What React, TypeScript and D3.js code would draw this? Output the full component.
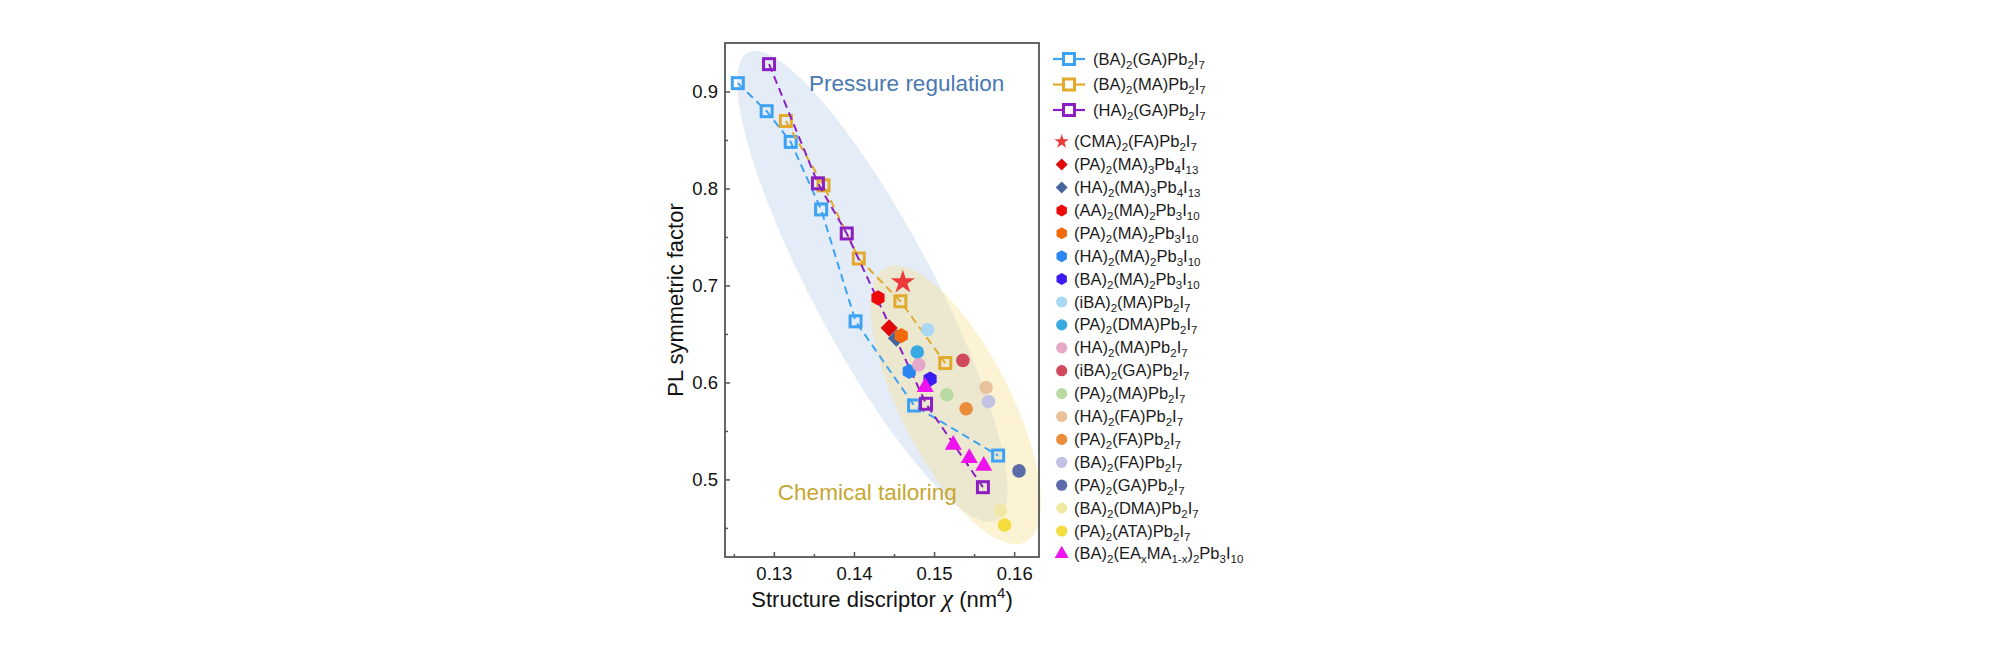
import React, { useEffect, useRef } from 'react'
import * as d3 from 'd3'

// axis ticks
const xTicks = [0.13, 0.14, 0.15, 0.16]
const xMinorTicks = [0.125, 0.135, 0.145, 0.155]
const yTicks = [0.5, 0.6, 0.7, 0.8, 0.9]
const yMinorTicks = [0.45, 0.55, 0.65, 0.75, 0.85]

// pressure series (dashed lines with open squares)
const lineNames = ['(BA)_2(GA)Pb_2I_7', '(BA)_2(MA)Pb_2I_7', '(HA)_2(GA)Pb_2I_7']
const lineColors = ['#3ea2f2', '#e1aa2c', '#8c1fc1']
const baGaX = [0.1255, 0.1291, 0.1321, 0.1359, 0.1402, 0.1475, 0.158]
const baGaY = [0.9086, 0.8797, 0.848, 0.7784, 0.663, 0.5762, 0.5246]
const baMaX = [0.1315, 0.1362, 0.1406, 0.1458, 0.1514]
const baMaY = [0.8696, 0.8032, 0.7278, 0.6837, 0.62]
const haGaX = [0.1294, 0.1355, 0.1391, 0.149, 0.1561]
const haGaY = [0.9282, 0.8053, 0.7536, 0.578, 0.492]
const lineXs = [baGaX, baMaX, haGaX]
const lineYs = [baGaY, baMaY, haGaY]

// chemical tailoring compounds (single points)
const compoundNames = [
  '(CMA)_2(FA)Pb_2I_7',
  '(PA)_2(MA)_3Pb_4I_{13}',
  '(HA)_2(MA)_3Pb_4I_{13}',
  '(AA)_2(MA)_2Pb_3I_{10}',
  '(PA)_2(MA)_2Pb_3I_{10}',
  '(HA)_2(MA)_2Pb_3I_{10}',
  '(BA)_2(MA)_2Pb_3I_{10}',
  '(iBA)_2(MA)Pb_2I_7',
  '(PA)_2(DMA)Pb_2I_7',
  '(HA)_2(MA)Pb_2I_7',
  '(iBA)_2(GA)Pb_2I_7',
  '(PA)_2(MA)Pb_2I_7',
  '(HA)_2(FA)Pb_2I_7',
  '(PA)_2(FA)Pb_2I_7',
  '(BA)_2(FA)Pb_2I_7',
  '(PA)_2(GA)Pb_2I_7',
  '(BA)_2(DMA)Pb_2I_7',
  '(PA)_2(ATA)Pb_2I_7',
]
const compoundShapes = [
  'star', 'diamond', 'diamond', 'hex', 'hex', 'hex', 'hex',
  'circle', 'circle', 'circle', 'circle', 'circle', 'circle',
  'circle', 'circle', 'circle', 'circle', 'circle',
]
const compoundColors = [
  '#ec3b3d', '#e00a0a', '#45659c', '#ee0a0a', '#f26a0c', '#2b86f2', '#3a1cf2',
  '#a8d8f2', '#3aa9e2', '#e6a8c8', '#d14a5c', '#b9d9a2', '#e9c29c',
  '#ea8c3a', '#c2c2e2', '#5b6aa9', '#f2e8a6', '#f3dc3e',
]
const compoundX = [
  0.1461, 0.1444, 0.1453, 0.143, 0.1459, 0.1469, 0.1495, 0.1492, 0.1479,
  0.1481, 0.1536, 0.1516, 0.1565, 0.154, 0.1568, 0.1606, 0.1583, 0.1588,
]
const compoundY = [
  0.7033, 0.6562, 0.6456, 0.6872, 0.6483, 0.6114, 0.6035, 0.6544, 0.6314,
  0.6183, 0.6227, 0.5873, 0.5948, 0.5728, 0.5804, 0.5088, 0.4678, 0.453,
]

// (BA)2(EAxMA1-x)2Pb3I10 triangles
const eaName = '(BA)_2(EA_xMA_{1-x})_2Pb_3I_{10}'
const eaColor = '#ee12ee'
const eaX = [0.1489, 0.1524, 0.1544, 0.1562]
const eaY = [0.5953, 0.5356, 0.5219, 0.514]

const width = 2000
const height = 649
const plot = { left: 725, right: 1039, top: 43, bottom: 557 }
const font = "'Liberation Sans', Arial, Helvetica, sans-serif"

const xScale = d3.scaleLinear().domain([0.1239, 0.1631]).range([plot.left, plot.right])
const yScale = d3.scaleLinear().domain([0.42, 0.95]).range([plot.bottom, plot.top])

// split "(BA)_2(GA)" into normal / subscript parts
function parseLabel(s: string) {
  const parts: { text: string; sub: boolean }[] = []
  let buf = ''
  let i = 0
  while (i < s.length) {
    if (s[i] === '_') {
      if (buf) parts.push({ text: buf, sub: false })
      buf = ''
      let t = ''
      if (s[i + 1] === '{') {
        const end = s.indexOf('}', i)
        t = s.slice(i + 2, end)
        i = end + 1
      } else {
        t = s[i + 1]
        i += 2
      }
      parts.push({ text: t, sub: true })
    } else {
      buf += s[i]
      i++
    }
  }
  if (buf) parts.push({ text: buf, sub: false })
  return parts
}

function Label({ x, y, text }: { x: number; y: number; text: string }) {
  let shifted = false
  return (
    <text x={x} y={y} fontSize={16.5} fill="#1a1a1a" fontFamily={font}>
      {parseLabel(text).map((p, i) => {
        const dy = p.sub ? (shifted ? 0 : 4) : shifted ? -4 : 0
        shifted = p.sub
        return (
          <tspan key={i} dy={dy} fontSize={p.sub ? 11.5 : 16.5}>
            {p.text}
          </tspan>
        )
      })}
    </text>
  )
}

function hexPath(r: number) {
  const pts = d3.range(6).map((k) => {
    const a = ((-90 + 60 * k) * Math.PI) / 180
    return [r * Math.cos(a), r * Math.sin(a)]
  })
  return 'M' + pts.map((p) => p.join(',')).join('L') + 'Z'
}

function diamondPath(r: number) {
  return `M0,${-r}L${r},0L0,${r}L${-r},0Z`
}

function trianglePath(s: number) {
  const h = s / Math.sqrt(3)
  return `M0,${-h}L${s / 2},${h / 2}L${-s / 2},${h / 2}Z`
}

function starPath(r: number) {
  return d3.symbol(d3.symbolStar, (r * r) / 0.8908130915292852)() || ''
}

function Marker({ shape, color, cx, cy, big }: { shape: string; color: string; cx: number; cy: number; big: boolean }) {
  if (shape === 'circle') return <circle cx={cx} cy={cy} r={big ? 6.8 : 5.6} fill={color} />
  let d = ''
  if (shape === 'star') d = starPath(big ? 12.6 : 7.6)
  if (shape === 'diamond') d = diamondPath(big ? 8.6 : 6)
  if (shape === 'hex') d = hexPath(big ? 7.6 : 6)
  if (shape === 'triangle') d = trianglePath(big ? 17 : 14)
  return <path d={d} transform={`translate(${cx},${cy})`} fill={color} />
}

const App: React.FC = () => {
  const xAxisRef = useRef<SVGGElement>(null)
  const yAxisRef = useRef<SVGGElement>(null)

  useEffect(() => {
    if (!xAxisRef.current || !yAxisRef.current) return
    const gx = d3.select(xAxisRef.current)
    const gy = d3.select(yAxisRef.current)
    gx.selectAll('*').remove()
    gy.selectAll('*').remove()

    gx.append('g')
      .call(d3.axisBottom(xScale).tickValues(xTicks).tickSizeInner(-5).tickSizeOuter(0).tickPadding(10).tickFormat(d3.format('.2f')))
    gx.append('g')
      .call(d3.axisBottom(xScale).tickValues(xMinorTicks).tickSizeInner(-3).tickSizeOuter(0).tickFormat(() => ''))
    gy.append('g')
      .call(d3.axisLeft(yScale).tickValues(yTicks).tickSizeInner(-5).tickSizeOuter(0).tickPadding(7).tickFormat(d3.format('.1f')))
    gy.append('g')
      .call(d3.axisLeft(yScale).tickValues(yMinorTicks).tickSizeInner(-3).tickSizeOuter(0).tickFormat(() => ''))

    for (const g of [gx, gy]) {
      g.selectAll('.domain').remove()
      g.selectAll('.tick line').attr('stroke', '#555').attr('stroke-width', 1.5)
      g.selectAll('.tick text')
        .attr('fill', '#111')
        .style('font-family', font)
        .style('font-size', '18.5px')
    }
  }, [])

  const blueC = [xScale(0.1423), yScale(0.699)]
  const yellowC = [xScale(0.1527), yScale(0.577)]

  return (
    <svg width={width} height={height} style={{ position: 'absolute', left: 0, top: 0, background: '#fff' }} fontFamily={font}>
      {/* shaded regions */}
      <ellipse
        cx={blueC[0]}
        cy={blueC[1]}
        rx={265}
        ry={60}
        transform={`rotate(62 ${blueC[0]} ${blueC[1]})`}
        fill="#c9dbf0"
        fillOpacity={0.5}
      />
      <ellipse
        cx={yellowC[0]}
        cy={yellowC[1]}
        rx={154}
        ry={55}
        transform={`rotate(63 ${yellowC[0]} ${yellowC[1]})`}
        fill="#f7e29c"
        fillOpacity={0.42}
      />

      <text x={xScale(0.1344)} y={yScale(0.9006)} fontSize={22.5} fill="#4a78b2">
        Pressure regulation
      </text>
      <text x={xScale(0.1305)} y={yScale(0.4785)} fontSize={22.5} fill="#c6a632">
        Chemical tailoring
      </text>

      {/* dashed pressure series */}
      {lineXs.map((xs, s) => {
        const pts = xs.map((x, i) => [xScale(x), yScale(lineYs[s][i])] as [number, number])
        const path = d3.line()(pts) || ''
        return (
          <g key={s}>
            <path d={path} fill="none" stroke={lineColors[s]} strokeWidth={2} strokeDasharray="8,5" />
            {pts.map((p, i) => (
              <rect key={i} x={p[0] - 5.5} y={p[1] - 5.5} width={11} height={11} fill="none" stroke={lineColors[s]} strokeWidth={3} />
            ))}
          </g>
        )
      })}

      {/* compounds */}
      {compoundX.map((x, i) => (
        <Marker key={i} shape={compoundShapes[i]} color={compoundColors[i]} cx={xScale(x)} cy={yScale(compoundY[i])} big />
      ))}
      {eaX.map((x, i) => (
        <Marker key={i} shape="triangle" color={eaColor} cx={xScale(x)} cy={yScale(eaY[i])} big />
      ))}

      {/* frame and axes */}
      <rect
        x={plot.left}
        y={plot.top}
        width={plot.right - plot.left}
        height={plot.bottom - plot.top}
        fill="none"
        stroke="#555"
        strokeWidth={1.8}
      />
      <g ref={xAxisRef} transform={`translate(0,${plot.bottom})`} />
      <g ref={yAxisRef} transform={`translate(${plot.left},0)`} />

      <text x={(plot.left + plot.right) / 2} y={607} fontSize={22} textAnchor="middle" fill="#111">
        Structure discriptor{' '}
        <tspan fontFamily="'Liberation Serif', serif" fontStyle="italic" fontSize={25}>
          χ
        </tspan>{' '}
        (nm
        <tspan fontSize={15} dy={-9}>
          4
        </tspan>
        <tspan dy={9}>)</tspan>
      </text>
      <text transform={`translate(683,${(plot.top + plot.bottom) / 2}) rotate(-90)`} fontSize={22} textAnchor="middle" fill="#111">
        PL symmetric factor
      </text>

      {/* legend */}
      {lineNames.map((n, i) => {
        const y = 59 + i * 25.5
        return (
          <g key={n}>
            <line x1={1053} x2={1085} y1={y} y2={y} stroke={lineColors[i]} strokeWidth={2.2} />
            <rect x={1063.5} y={y - 5.5} width={11} height={11} fill="#fff" stroke={lineColors[i]} strokeWidth={3} />
            <Label x={1093} y={y + 5.5} text={n} />
          </g>
        )
      })}
      {[...compoundNames, eaName].map((n, i) => {
        const y = 141.7 + i * 22.9
        const shape = i < compoundNames.length ? compoundShapes[i] : 'triangle'
        const color = i < compoundNames.length ? compoundColors[i] : eaColor
        return (
          <g key={n}>
            <Marker shape={shape} color={color} cx={1061.7} cy={y} big={false} />
            <Label x={1074} y={y + 5.5} text={n} />
          </g>
        )
      })}
    </svg>
  )
}

export default App
